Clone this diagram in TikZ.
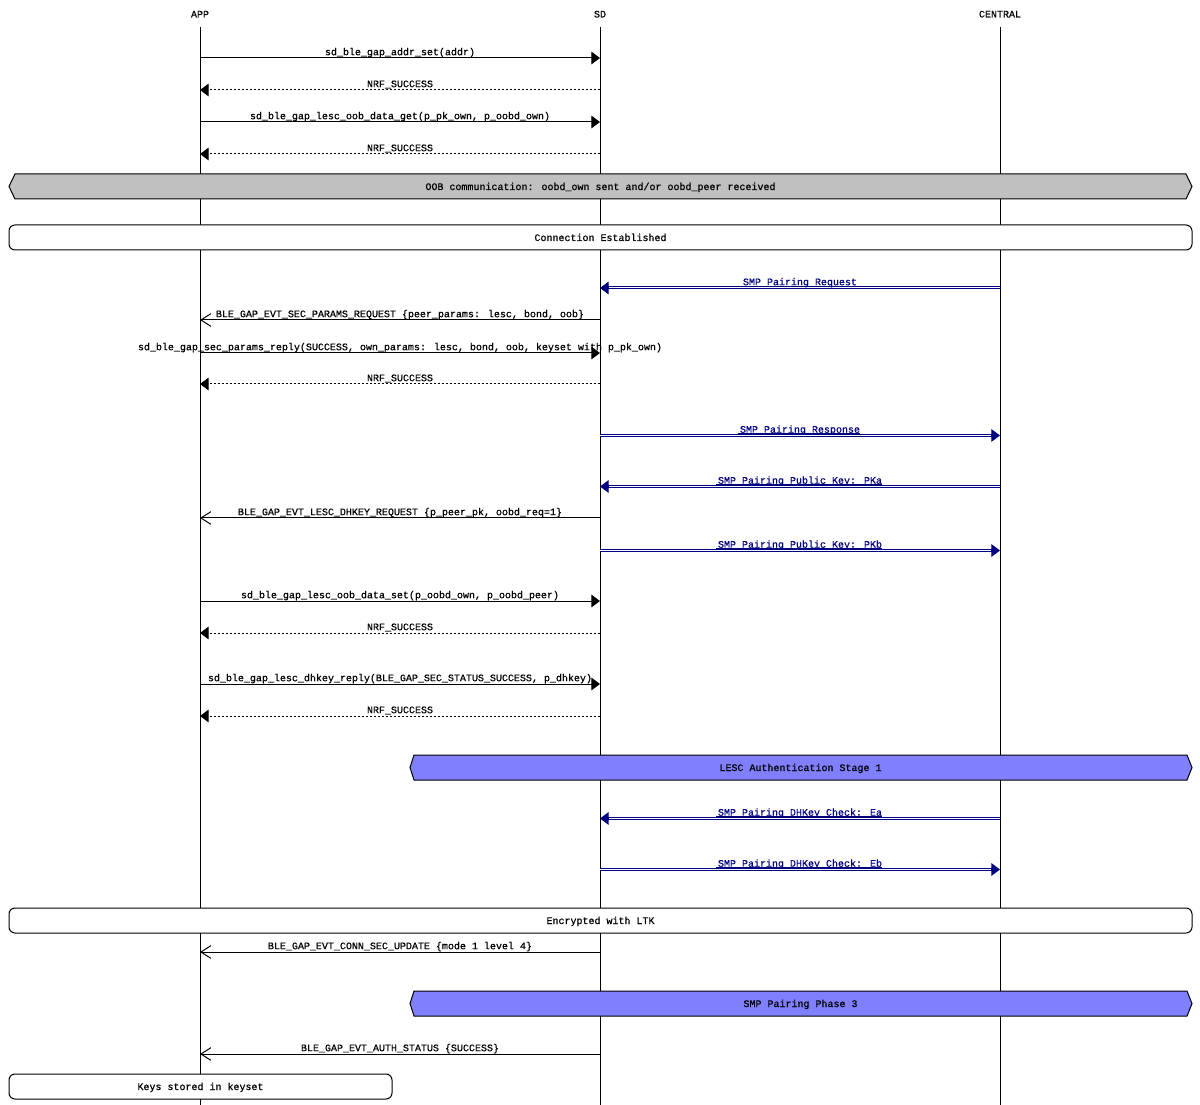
\documentclass[tikz,border=0pt]{standalone}
\usepackage{fontspec}
\setmainfont{Liberation Mono}[FakeBold=0.6]
\usetikzlibrary{arrows.meta,calc}
\definecolor{smpblue}{RGB}{0,0,128}
\definecolor{boxgray}{RGB}{192,192,192}
\definecolor{stageblue}{RGB}{128,128,255}
\newcommand\mrow[2]{\coordinate (a#1) at (200,#2); \coordinate (s#1) at (600,#2); \coordinate (c#1) at (1000,#2);}
\newcommand\smpul[1]{\setbox0\hbox{#1}\rlap{\hspace*{-1.5pt}\rule[-1.2pt]{\dimexpr\wd0+1.5pt\relax}{0.75pt}}\box0}
\begin{document}
\begin{tikzpicture}[x=0.75pt,y=-0.75pt,
  font=\fontsize{7.5pt}{9pt}\selectfont, line width=0.75pt,
  head/.style={anchor=base, inner sep=0pt},
  lbl/.style={anchor=base, yshift=2.1pt, inner sep=0pt},
  call/.style={-{Triangle[length=6.5pt,width=9.5pt]}},
  ret/.style={dash pattern=on 1.5pt off 1.5pt, -{Triangle[length=6.5pt,width=9.5pt]}},
  evt/.style={-{Straight Barb[length=7.5pt,width=9.5pt]}},
  smpline/.style={draw=smpblue, double=white, double distance=0.75pt, shorten >=6pt},
  smptip/.style={draw=smpblue, fill=smpblue, -{Triangle[length=6.5pt,width=9.5pt]}},
  smplbl/.style={lbl, text=smpblue},
  hexbox/.style={draw=black},
  rbox/.style={draw=black, fill=white, rounded corners=4.5pt},
  boxlbl/.style={anchor=base, inner sep=0pt},
]
\useasboundingbox (0,0) rectangle (1200,1105);

% lifelines
\node[head] (app) at (200,17.5) {APP};
\node[head] (sd) at (600,17.5) {SD};
\node[head] (central) at (1000,17.5) {CENTRAL};
\coordinate (appTop) at (200,27); \coordinate (appBot) at (200,1105);
\coordinate (sdTop) at (600,27); \coordinate (sdBot) at (600,1105);
\coordinate (cTop) at (1000,27); \coordinate (cBot) at (1000,1105);
\draw (appTop) -- (appBot);
\draw (sdTop) -- (sdBot);
\draw (cTop) -- (cBot);

% rows
\mrow{1}{58}
\mrow{2}{90}
\mrow{3}{122}
\mrow{4}{154}
\mrow{7}{288}
\mrow{8}{320}
\mrow{9}{353}
\mrow{10}{384}
\mrow{11}{435.5}
\mrow{12}{486.5}
\mrow{13}{518}
\mrow{14}{550.5}
\mrow{15}{601}
\mrow{16}{633}
\mrow{17}{684}
\mrow{18}{716}
\mrow{20}{818.5}
\mrow{21}{869.5}
\mrow{23}{952}
\mrow{25}{1054}

\draw[call] (a1) -- node[lbl] (m1) {sd\_ble\_gap\_addr\_set(addr)} (s1);
\draw[ret] (s2) -- node[lbl] (m2) {NRF\_SUCCESS} (a2);
\draw[call] (a3) -- node[lbl] (m3) {sd\_ble\_gap\_lesc\_oob\_data\_get(p\_pk\_own, p\_oobd\_own)} (s3);
\draw[ret] (s4) -- node[lbl] (m4) {NRF\_SUCCESS} (a4);

% OOB hexagon
\draw[hexbox, fill=boxgray] (9,186.5) -- (15,174) -- (1186,174) -- (1192,186.5) -- (1186,199) -- (15,199) -- cycle;
\node[boxlbl] (oob) at (600.5,190) {OOB communication: oobd\_own sent and/or oobd\_peer received};

% Connection established
\draw[rbox] (9,225) rectangle (1192,250);
\node[boxlbl] (conn) at (600.5,241) {Connection Established};

% SMP pairing request
\draw[smpline] (c7) -- (s7);
\draw[smptip] ($(s7)!6.5pt!(c7)$) -- (s7);
\node[smplbl] (m7) at ($(c7)!0.5!(s7)$) {\smpul{SMP Pairing Request}};

\draw[evt] (s8) -- node[lbl] (m8) {BLE\_GAP\_EVT\_SEC\_PARAMS\_REQUEST \{peer\_params: lesc, bond, oob\}} (a8);
\draw[call] (a9) -- node[lbl] (m9) {sd\_ble\_gap\_sec\_params\_reply(SUCCESS, own\_params: lesc, bond, oob, keyset with p\_pk\_own)} (s9);
\draw[ret] (s10) -- node[lbl] (m10) {NRF\_SUCCESS} (a10);

\draw[smpline] (s11) -- (c11);
\draw[smptip] ($(c11)!6.5pt!(s11)$) -- (c11);
\node[smplbl] (m11) at ($(s11)!0.5!(c11)$) {\smpul{SMP Pairing Response}};

\draw[smpline] (c12) -- (s12);
\draw[smptip] ($(s12)!6.5pt!(c12)$) -- (s12);
\node[smplbl] (m12) at ($(c12)!0.5!(s12)$) {\smpul{SMP Pairing Public Key: PKa}};

\draw[evt] (s13) -- node[lbl] (m13) {BLE\_GAP\_EVT\_LESC\_DHKEY\_REQUEST \{p\_peer\_pk, oobd\_req=1\}} (a13);

\draw[smpline] (s14) -- (c14);
\draw[smptip] ($(c14)!6.5pt!(s14)$) -- (c14);
\node[smplbl] (m14) at ($(s14)!0.5!(c14)$) {\smpul{SMP Pairing Public Key: PKb}};

\draw[call] (a15) -- node[lbl] (m15) {sd\_ble\_gap\_lesc\_oob\_data\_set(p\_oobd\_own, p\_oobd\_peer)} (s15);
\draw[ret] (s16) -- node[lbl] (m16) {NRF\_SUCCESS} (a16);
\draw[call] (a17) -- node[lbl] (m17) {sd\_ble\_gap\_lesc\_dhkey\_reply(BLE\_GAP\_SEC\_STATUS\_SUCCESS, p\_dhkey)} (s17);
\draw[ret] (s18) -- node[lbl] (m18) {NRF\_SUCCESS} (a18);

% LESC stage hexagon
\draw[hexbox, fill=stageblue] (410,767.5) -- (414,755) -- (1187,755) -- (1192,767.5) -- (1187,780) -- (414,780) -- cycle;
\node[boxlbl] (lesc) at (800.5,771) {LESC Authentication Stage 1};

\draw[smpline] (c20) -- (s20);
\draw[smptip] ($(s20)!6.5pt!(c20)$) -- (s20);
\node[smplbl] (m20) at ($(c20)!0.5!(s20)$) {\smpul{SMP Pairing DHKey Check: Ea}};

\draw[smpline] (s21) -- (c21);
\draw[smptip] ($(c21)!6.5pt!(s21)$) -- (c21);
\node[smplbl] (m21) at ($(s21)!0.5!(c21)$) {\smpul{SMP Pairing DHKey Check: Eb}};

% Encrypted with LTK
\draw[rbox] (9,908) rectangle (1192,933);
\node[boxlbl] (enc) at (600.5,924) {Encrypted with LTK};

\draw[evt] (s23) -- node[lbl] (m23) {BLE\_GAP\_EVT\_CONN\_SEC\_UPDATE \{mode 1 level 4\}} (a23);

% SMP pairing phase 3
\draw[hexbox, fill=stageblue] (410,1003.5) -- (414,991) -- (1187,991) -- (1192,1003.5) -- (1187,1016) -- (414,1016) -- cycle;
\node[boxlbl] (ph3) at (800.5,1007) {SMP Pairing Phase 3};

\draw[evt] (s25) -- node[lbl] (m25) {BLE\_GAP\_EVT\_AUTH\_STATUS \{SUCCESS\}} (a25);

% Keys stored
\draw[rbox] (9,1074) rectangle (392,1099);
\node[boxlbl] (keys) at (200.5,1090) {Keys stored in keyset};
\end{tikzpicture}
\end{document}
